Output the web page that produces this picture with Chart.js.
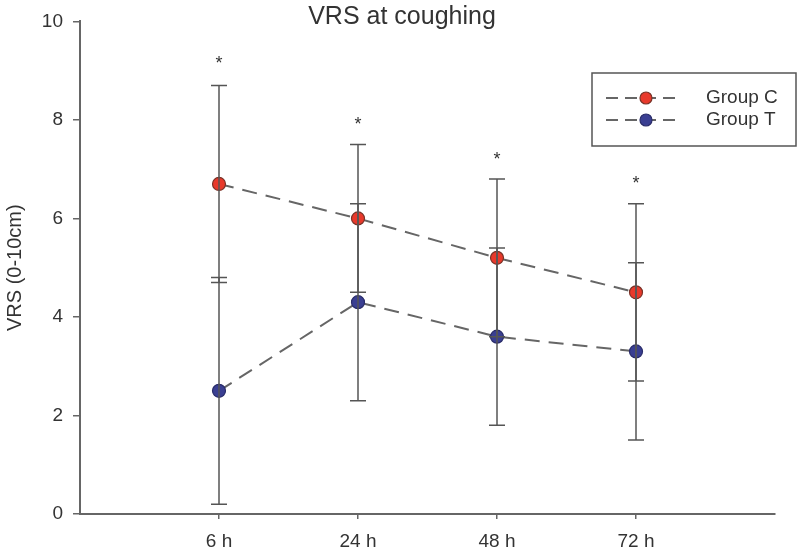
<!DOCTYPE html>
<html>
<head>
<meta charset="utf-8">
<script src="https://cdn.jsdelivr.net/npm/chart.js@4"></script>
<style>
  html, body { margin: 0; padding: 0; background: #fff; }
  #wrap { width: 800px; height: 553px; }
</style>
</head>
<body>
<div id="wrap"><canvas id="vrs"></canvas></div>
<script>
const timeLabels = ["6 h", "24 h", "48 h", "72 h"];
const timePos = [1, 2, 3, 4];
const groupC = [6.7, 6.0, 5.2, 4.5];
const groupCErr = [2.0, 1.5, 1.6, 1.8];
const groupT = [2.5, 4.3, 3.6, 3.3];
const groupTErr = [2.3, 2.0, 1.8, 1.8];
const starValues = [9.25, 8.0, 7.3, 6.8];
const yTicks = [0, 2, 4, 6, 8, 10];

const FONT = '"Liberation Sans", Arial, sans-serif';
const INK = "#333";
const AXIS = "#666";
const DASH = [15, 9];

const toPoints = (vals) => vals.map((v, i) => ({ x: timePos[i], y: v }));

// vertical error bars with caps, drawn on top of the markers like the original
const errorBars = {
  id: "errorBars",
  afterDatasetsDraw(chart) {
    const { ctx, scales: { x, y } } = chart;
    const sets = [[groupC, groupCErr], [groupT, groupTErr]];
    ctx.save();
    ctx.strokeStyle = "#555";
    ctx.lineWidth = 1.5;
    sets.forEach(([vals, errs]) => {
      vals.forEach((v, i) => {
        const px = x.getPixelForValue(timePos[i]);
        const top = y.getPixelForValue(v + errs[i]);
        const bot = y.getPixelForValue(v - errs[i]);
        ctx.beginPath();
        ctx.moveTo(px, top);
        ctx.lineTo(px, bot);
        ctx.moveTo(px - 8, top);
        ctx.lineTo(px + 8, top);
        ctx.moveTo(px - 8, bot);
        ctx.lineTo(px + 8, bot);
        ctx.stroke();
      });
    });
    // significance marks
    const fs = 18;
    ctx.fillStyle = INK;
    ctx.font = fs + "px " + FONT;
    ctx.textAlign = "center";
    ctx.textBaseline = "alphabetic";
    starValues.forEach((v, i) => {
      ctx.fillText("*", x.getPixelForValue(timePos[i]), y.getPixelForValue(v) + fs * 0.58);
    });
    ctx.restore();
  },
};

// title and boxed legend
const decorations = {
  id: "decorations",
  afterDraw(chart) {
    const { ctx } = chart;
    ctx.save();
    ctx.fillStyle = INK;
    ctx.font = "25px " + FONT;
    ctx.textAlign = "center";
    ctx.textBaseline = "middle";
    ctx.fillText("VRS at coughing", 402, 17);

    ctx.strokeStyle = "#555";
    ctx.lineWidth = 1.5;
    ctx.strokeRect(592, 73, 204, 73);

    chart.data.datasets.forEach((ds, i) => {
      const ly = 98 + i * 22;
      ctx.setLineDash([12, 7]);
      ctx.strokeStyle = "#666";
      ctx.lineWidth = 2;
      ctx.beginPath();
      ctx.moveTo(606, ly);
      ctx.lineTo(679, ly);
      ctx.stroke();
      ctx.setLineDash([]);
      ctx.beginPath();
      ctx.arc(646, ly, 6, 0, Math.PI * 2);
      ctx.fillStyle = ds.pointBackgroundColor;
      ctx.fill();
      ctx.strokeStyle = ds.pointBorderColor;
      ctx.lineWidth = 1.2;
      ctx.stroke();
      ctx.fillStyle = INK;
      ctx.font = "19px " + FONT;
      ctx.textAlign = "left";
      ctx.fillText(ds.label, 706, ly);
    });
    ctx.restore();
  },
};

const data = {
  datasets: [
    {
      label: "Group C",
      data: toPoints(groupC),
      borderColor: "#666",
      borderWidth: 2,
      borderDash: DASH,
      pointRadius: 6.5,
      pointBackgroundColor: "#e8392b",
      pointBorderColor: "#7a3328",
      pointBorderWidth: 1.2,
      tension: 0,
    },
    {
      label: "Group T",
      data: toPoints(groupT),
      borderColor: "#666",
      borderWidth: 2,
      borderDash: DASH,
      pointRadius: 6.5,
      pointBackgroundColor: "#3a3f92",
      pointBorderColor: "#2a2d6a",
      pointBorderWidth: 1.2,
      tension: 0,
    },
  ],
};

const options = {
  responsive: true,
  maintainAspectRatio: false,
  animation: false,
  layout: { padding: { top: 15, right: 25, left: 0, bottom: 0 } },
  scales: {
    x: {
      type: "linear",
      min: 0,
      max: 5,
      afterBuildTicks: (scale) => {
        scale.ticks = timePos.map((v) => ({ value: v }));
      },
      afterFit: (scale) => {
        scale.height = 39;
      },
      border: { color: AXIS, width: 2 },
      grid: { drawOnChartArea: false, color: AXIS, lineWidth: 1.5, tickLength: 5 },
      ticks: {
        color: INK,
        padding: 11,
        font: { family: FONT, size: 19 },
        callback: (v) => timeLabels[timePos.indexOf(v)] ?? "",
      },
    },
    y: {
      min: 0,
      max: 10,
      afterBuildTicks: (scale) => {
        scale.ticks = yTicks.map((v) => ({ value: v }));
      },
      afterFit: (scale) => {
        scale.width = 80;
      },
      border: { color: AXIS, width: 2 },
      grid: { drawOnChartArea: false, color: AXIS, lineWidth: 1.5, tickLength: 7 },
      ticks: {
        color: INK,
        padding: 10,
        font: { family: FONT, size: 19 },
      },
      title: {
        display: true,
        text: "VRS (0-10cm)",
        color: INK,
        padding: { top: 3, bottom: 0 },
        font: { family: FONT, size: 20 },
      },
    },
  },
  plugins: {
    legend: { display: false },
    tooltip: { enabled: false },
  },
};

new Chart(document.getElementById("vrs"), {
  type: "line",
  data,
  options,
  plugins: [errorBars, decorations],
});
</script>
</body>
</html>
